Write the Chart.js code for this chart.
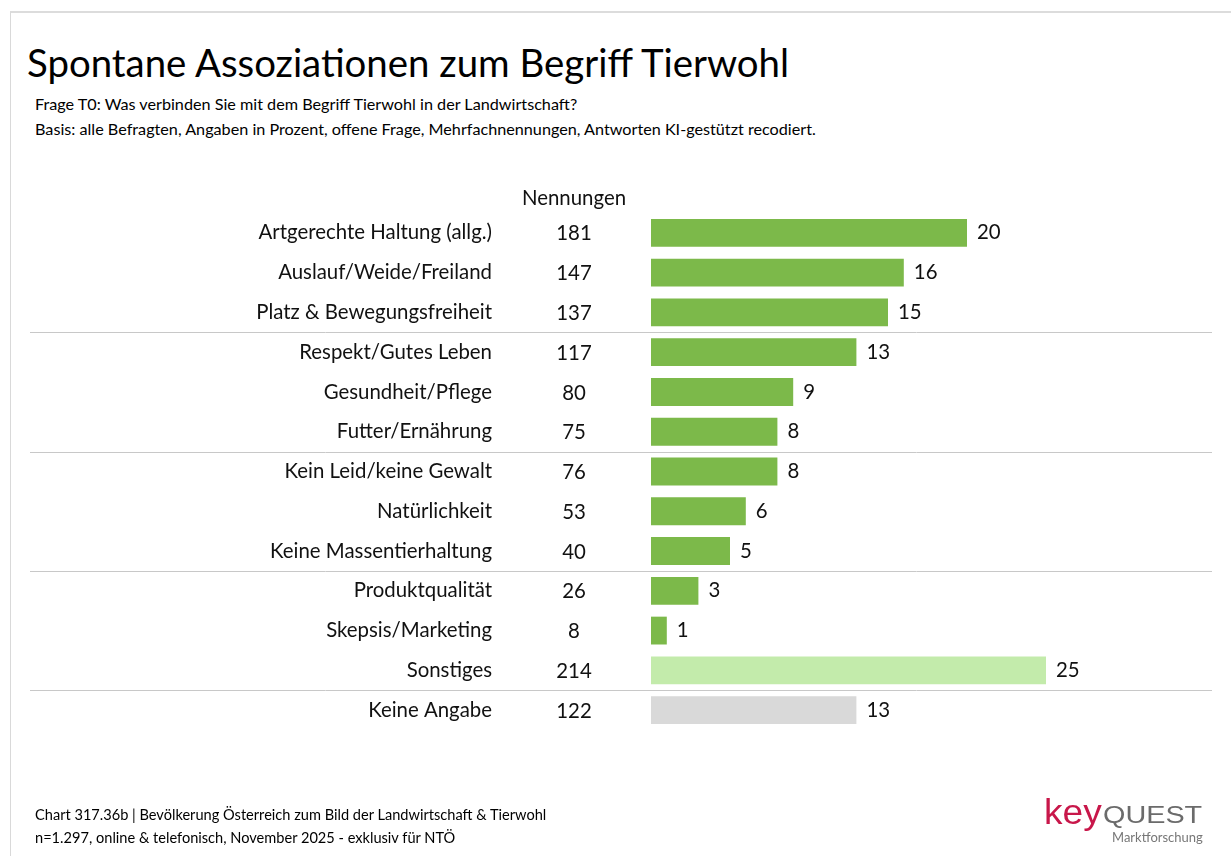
<!DOCTYPE html>
<html>
<head>
<meta charset="utf-8">
<script src="https://cdn.jsdelivr.net/npm/chart.js@4.4.1/dist/chart.umd.min.js"></script>
<style>
  html, body { margin:0; padding:0; background:#fff; }
  body { width:1231px; height:856px; position:relative; overflow:hidden; font-family: Lato, "Open Sans", sans-serif; color:#111; }
  #frame { position:absolute; left:10px; top:11px; right:-5px; bottom:-5px; border-left:1px solid #d9d9d9; border-top:2px solid #dcdcdc; }
  #title { position:absolute; left:27px; top:39px; font-size:38.4px; line-height:46px; white-space:nowrap; color:#000; }
  .sub { position:absolute; left:35px; font-size:16.2px; line-height:20px; white-space:nowrap; color:#000; }
  .foot { position:absolute; left:35px; font-size:14.6px; line-height:18px; white-space:nowrap; color:#000; }
  #chartwrap { position:absolute; left:0; top:0; width:1231px; height:856px; }
  #logo { position:absolute; left:1044px; top:0; width:180px; height:856px; }
  #logo span { position:absolute; white-space:nowrap; transform-origin:0 0; }
  #logo .k { left:0; top:794px; font-family:"Liberation Sans", Arial, sans-serif; font-size:35px; line-height:35px; color:#c8174a; transform:scaleX(1.06); }
  #logo .q { left:59px; top:803px; font-family:"Liberation Sans", Arial, sans-serif; font-size:24px; line-height:24px; color:#6b6b6b; transform:scaleX(1.2); }
  #logo .m { left:68px; top:831px; font-family:Lato, sans-serif; font-size:13px; line-height:13px; color:#777; }
</style>
</head>
<body>
<div id="frame"></div>
<div id="title">Spontane Assoziationen zum Begriff Tierwohl</div>
<div class="sub" style="top:94px">Frage T0: Was verbinden Sie mit dem Begriff Tierwohl in der Landwirtschaft?</div>
<div class="sub" style="top:119px">Basis: alle Befragten, Angaben in Prozent, offene Frage, Mehrfachnennungen, Antworten KI-gestützt recodiert.</div>
<div id="chartwrap"><canvas id="c" width="1231" height="856"></canvas></div>
<div class="foot" style="top:806px">Chart 317.36b | Bevölkerung Österreich zum Bild der Landwirtschaft &amp; Tierwohl</div>
<div class="foot" style="top:829px">n=1.297, online &amp; telefonisch, November 2025 - exklusiv für NTÖ</div>
<div id="logo"><span class="k">key</span><span class="q">QUEST</span><span class="m">Marktforschung</span></div>
<script>
const categories = [
  "Artgerechte Haltung (allg.)", "Auslauf/Weide/Freiland", "Platz & Bewegungsfreiheit",
  "Respekt/Gutes Leben", "Gesundheit/Pflege", "Futter/Ernährung",
  "Kein Leid/keine Gewalt", "Natürlichkeit", "Keine Massentierhaltung",
  "Produktqualität", "Skepsis/Marketing", "Sonstiges", "Keine Angabe"
];
const percentValues = [20, 16, 15, 13, 9, 8, 8, 6, 5, 3, 1, 25, 13];
const mentions = [181, 147, 137, 117, 80, 75, 76, 53, 40, 26, 8, 214, 122];
const mentionsHeader = "Nennungen";
const groupEnds = [2, 5, 8, 11]; // separator after these category indices

const GREEN = "#7cb94a", LIGHT = "#c3ebab", GREY = "#d9d9d9";
const barColors = categories.map(c => c === "Sonstiges" ? LIGHT : (c === "Keine Angabe" ? GREY : GREEN));
const FONT = "Lato, 'Open Sans', sans-serif";
const FS = 20.4;

const extras = {
  id: "extras",
  afterDatasetsDraw(chart) {
    const ctx = chart.ctx;
    const y = chart.scales.y;
    const area = chart.chartArea;
    const meta = chart.getDatasetMeta(0);
    ctx.save();
    ctx.strokeStyle = "#c8c8c8";
    ctx.lineWidth = 1;
    groupEnds.forEach(i => {
      const yy = Math.round((y.getPixelForValue(i) + y.getPixelForValue(i + 1)) / 2) + 0.5;
      ctx.beginPath(); ctx.moveTo(30, yy); ctx.lineTo(1212, yy); ctx.stroke();
    });
    ctx.fillStyle = "#111";
    ctx.font = FS + "px " + FONT;
    ctx.textAlign = "center";
    ctx.textBaseline = "middle";
    const colX = area.left - 77;
    ctx.fillText(mentionsHeader, colX, y.getPixelForValue(0) - 34);
    mentions.forEach((m, i) => ctx.fillText(String(m), colX, y.getPixelForValue(i) + 1));
    ctx.textAlign = "left";
    meta.data.forEach((bar, i) => {
      ctx.fillText(String(percentValues[i]), bar.x + 10, bar.y);
    });
    ctx.restore();
  }
};

new Chart(document.getElementById("c"), {
  type: "bar",
  data: {
    labels: categories,
    datasets: [{
      data: percentValues,
      backgroundColor: barColors,
      borderWidth: 0,
      barPercentage: 0.7,
      categoryPercentage: 1.0
    }]
  },
  options: {
    indexAxis: "y",
    responsive: false,
    animation: false,
    events: [],
    layout: { padding: { top: 213, bottom: 126, left: 0, right: 27 } },
    plugins: { legend: { display: false }, tooltip: { enabled: false }, title: { display: false } },
    scales: {
      x: { display: false, min: 0, max: 35, grid: { display: false } },
      y: {
        grid: { display: false, drawTicks: false, tickLength: 0 },
        border: { display: false },
        ticks: { color: "#111", font: { size: FS, family: FONT }, padding: 159, autoSkip: false },
        afterFit(scale) { scale.width = 651; scale.paddingTop = 10; scale.paddingBottom = 10; }
      }
    }
  },
  plugins: [extras]
});
</script>
</body>
</html>
